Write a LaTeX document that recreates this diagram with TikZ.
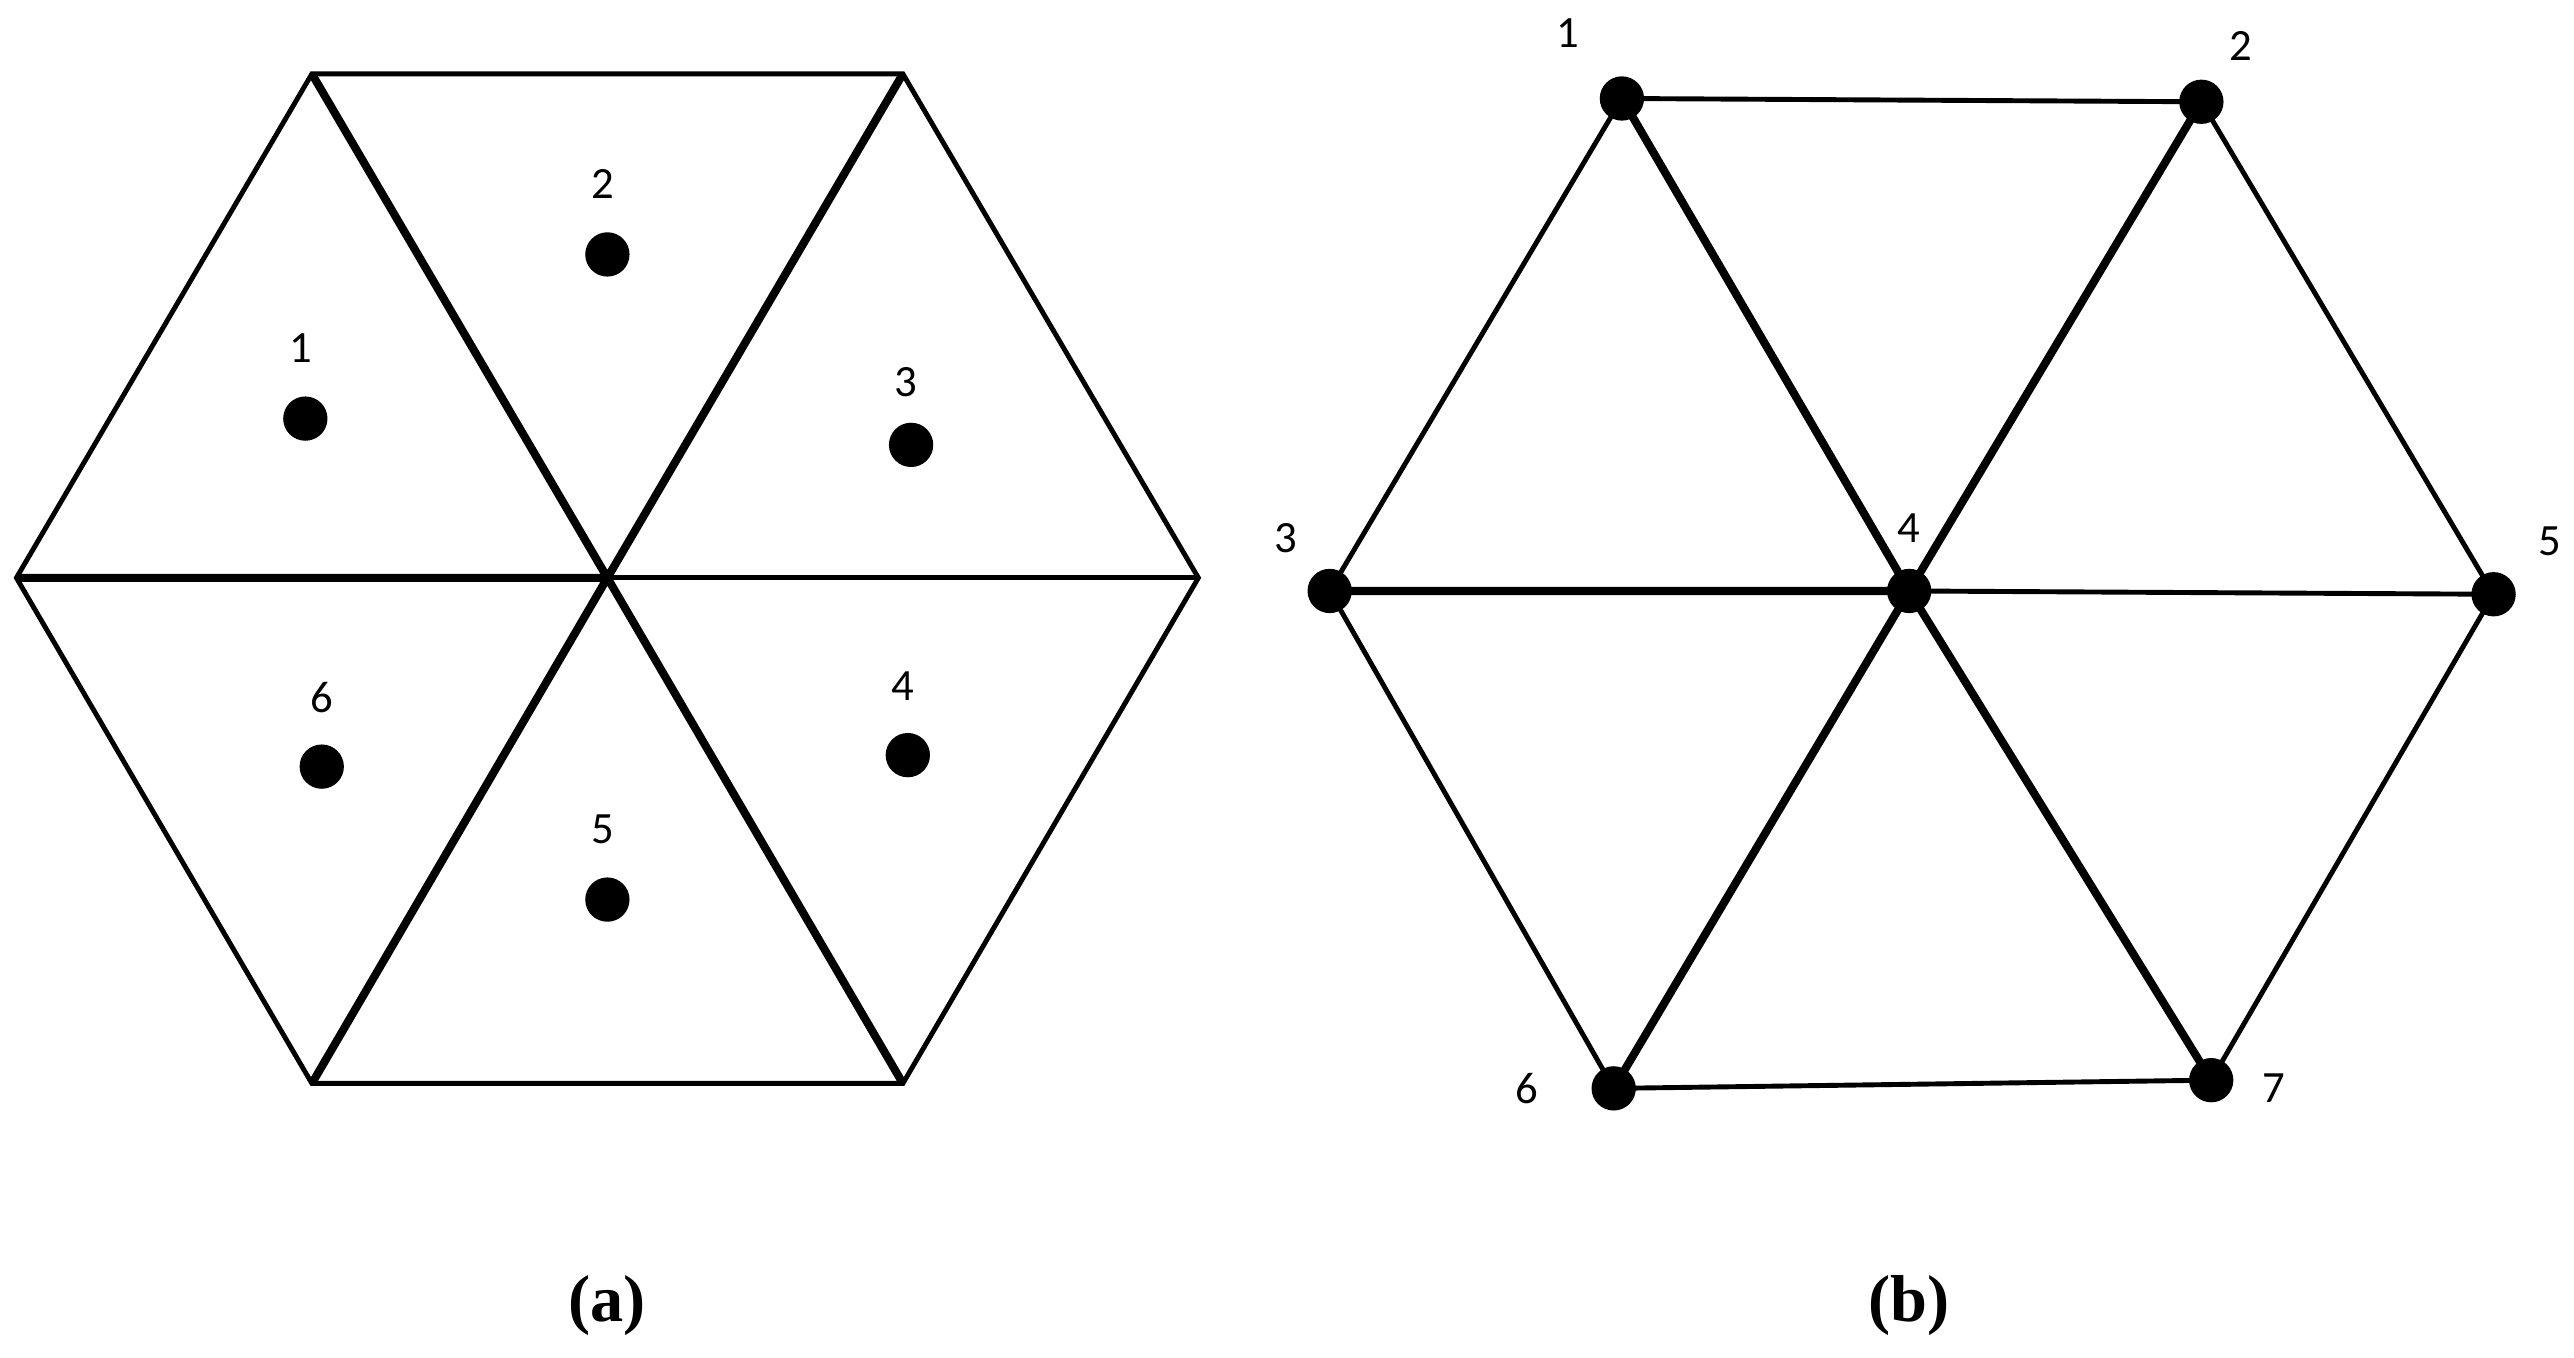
\documentclass[tikz,border=0pt]{standalone}
\usepackage{fontspec}
\setmainfont{Liberation Serif}
\newfontfamily\lab{Carlito}
\begin{document}
\begin{tikzpicture}[x=0.02cm,y=-0.02cm,
  thinl/.style={line width=1.7pt},
  thickl/.style={line width=2.8pt},
  dot/.style={circle,fill=black,inner sep=0pt,minimum size=0.54cm},
  lbl/.style={font=\lab\fontsize{15.5}{18}\selectfont},
  captxt/.style={font=\bfseries\fontsize{23}{27}\selectfont}]
\useasboundingbox (0,0) rectangle (1568,827);
% (a)
\coordinate (A1) at (190,45); \coordinate (A2) at (550,45);
\coordinate (A3) at (730,352); \coordinate (A4) at (550,660);
\coordinate (A5) at (190,660); \coordinate (A6) at (10,352);
\coordinate (AC) at (370,352);
\draw[thinl] (A1)--(A2)--(A3)--(A4)--(A5)--(A6)--cycle;
\draw[thickl] (A1)--(AC) (A2)--(AC) (A6)--(AC) (A5)--(AC) (A4)--(AC);
\draw[thinl] (A3)--(AC);
\node[dot] (d1) at (186,255) {}; \node[lbl] at (183,212) {1};
\node[dot] (d2) at (370,155) {}; \node[lbl] at (367,112) {2};
\node[dot] (d3) at (555,271) {}; \node[lbl] at (552,233) {3};
\node[dot] (d4) at (553,460) {}; \node[lbl] at (550,418) {4};
\node[dot] (d5) at (370,548) {}; \node[lbl] at (367,505) {5};
\node[dot] (d6) at (196,467) {}; \node[lbl] at (196,425) {6};
\node[captxt] (ca) at (370,795) {(a)};
% (b)
\node[dot] (n1) at (988,60) {}; \node[lbl] at (955,20) {1};
\node[dot] (n2) at (1341,62) {}; \node[lbl] at (1365,28) {2};
\node[dot] (n3) at (810,360) {}; \node[lbl] at (783,328) {3};
\node[dot] (n4) at (1163,360) {}; \node[lbl] at (1163,322) {4};
\node[dot] (n5) at (1519,362) {}; \node[lbl] at (1553,330) {5};
\node[dot] (n6) at (983,663) {}; \node[lbl] at (930,663) {6};
\node[dot] (n7) at (1347,658) {}; \node[lbl] at (1385,663) {7};
\draw[thinl] (n1.center)--(n2.center)--(n5.center)--(n7.center)--(n6.center)--(n3.center)--cycle;
\draw[thickl] (n1.center)--(n4.center) (n2.center)--(n4.center) (n3.center)--(n4.center)
  (n6.center)--(n4.center) (n7.center)--(n4.center);
\draw[thinl] (n4.center)--(n5.center);
\node[captxt] (cb) at (1163,795) {(b)};
\end{tikzpicture}
\end{document}
